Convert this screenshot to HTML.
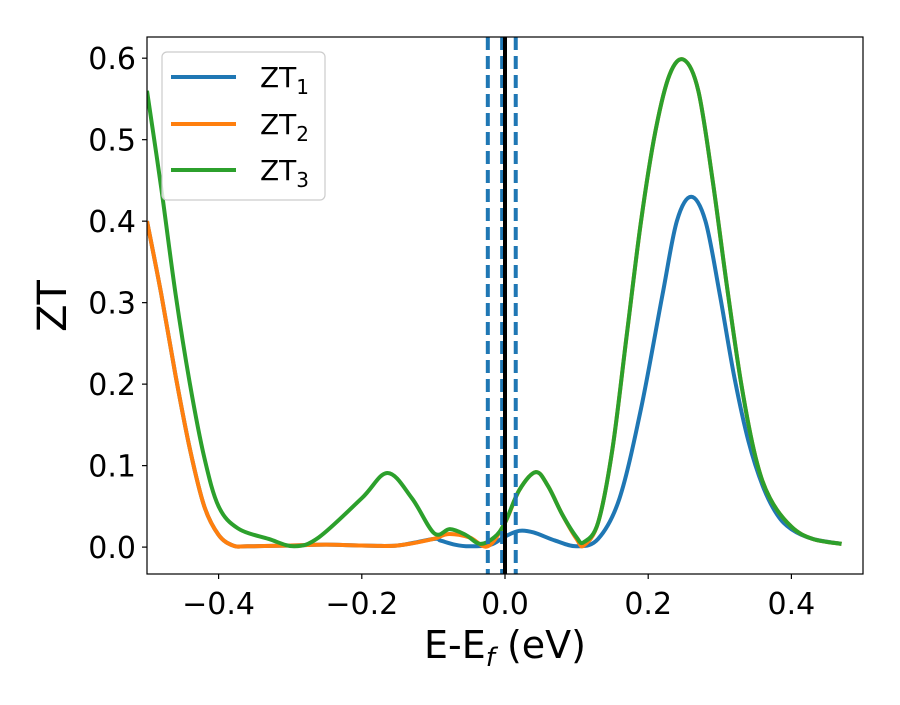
<!DOCTYPE html>
<html><head><meta charset="utf-8"><style>
body{margin:0;background:#fff;}
svg text{font-family:"DejaVu Sans","Liberation Sans",sans-serif;fill:#000;}
</style></head><body>
<svg width="900" height="700" viewBox="0 0 900 700">
<g id="marks"></g>
<g id="axes"></g>
</svg>
<script>
const blueX=[-0.5,-0.48,-0.46,-0.44,-0.42,-0.40,-0.38,-0.36,-0.3,-0.25,-0.2,-0.15,-0.1,-0.09,-0.07,-0.05,-0.02,0,0.02,0.04,0.07,0.1,0.13,0.16,0.19,0.22,0.24,0.26,0.28,0.30,0.32,0.34,0.36,0.38,0.40,0.43,0.47];
const blueY=[0.40,0.31,0.21,0.12,0.05,0.015,0.002,0.001,0.002,0.003,0.002,0.002,0.01,0.008,0.003,0.001,0.003,0.013,0.02,0.018,0.008,0.001,0.01,0.06,0.17,0.31,0.40,0.43,0.40,0.31,0.21,0.13,0.075,0.04,0.022,0.01,0.004];
const orangeX=[-0.5,-0.48,-0.46,-0.44,-0.42,-0.40,-0.38,-0.36,-0.3,-0.25,-0.2,-0.15,-0.1,-0.08,-0.05,-0.024,0,0.02,0.043,0.06,0.08,0.1,0.11,0.13,0.15,0.17,0.19,0.21,0.23,0.25,0.27,0.29,0.31,0.33,0.35,0.37,0.40,0.43,0.47];
const orangeY=[0.40,0.31,0.21,0.12,0.05,0.015,0.002,0.001,0.002,0.003,0.002,0.002,0.01,0.016,0.012,0.001,0.03,0.07,0.092,0.075,0.04,0.01,0.002,0.03,0.12,0.26,0.40,0.51,0.58,0.598,0.56,0.45,0.32,0.2,0.11,0.06,0.025,0.01,0.004];
const greenX=[-0.5,-0.48,-0.46,-0.44,-0.42,-0.40,-0.373,-0.33,-0.294,-0.26,-0.2,-0.164,-0.13,-0.099,-0.077,-0.055,-0.035,-0.015,0,0.02,0.043,0.06,0.08,0.1,0.11,0.13,0.15,0.17,0.19,0.21,0.23,0.25,0.27,0.29,0.31,0.33,0.35,0.37,0.40,0.43,0.47];
const greenY=[0.56,0.44,0.31,0.20,0.11,0.05,0.023,0.01,0.001,0.012,0.06,0.091,0.06,0.017,0.022,0.015,0.004,0.012,0.03,0.07,0.092,0.075,0.04,0.012,0.006,0.03,0.12,0.26,0.40,0.51,0.58,0.598,0.56,0.45,0.32,0.2,0.11,0.06,0.025,0.01,0.004];
const xTicks=[-0.4,-0.2,0.0,0.2,0.4];
const xTickLabels=["\u22120.4","\u22120.2","0.0","0.2","0.4"];
const yTicks=[0,0.1,0.2,0.3,0.4,0.5,0.6];
const yTickLabels=["0.0","0.1","0.2","0.3","0.4","0.5","0.6"];
const dashedX=[-0.024,-0.004,0.015];
const fermiX=0.0;

const L=147,R=863,T=37,B=574;
const xmin=-0.5,xmax=0.5,ymin=-0.033,ymax=0.626;
const sx=v=>L+(v-xmin)/(xmax-xmin)*(R-L);
const sy=v=>B-(v-ymin)/(ymax-ymin)*(B-T);
const NS="http://www.w3.org/2000/svg";
const marks=document.getElementById('marks'),axes=document.getElementById('axes');
function mk(tag,attrs,parent){const e=document.createElementNS(NS,tag);for(const k in attrs)e.setAttribute(k,attrs[k]);parent.appendChild(e);return e;}
function pathFor(xs,ys){
  const p=xs.map((x,i)=>[sx(x),sy(ys[i])]);
  let d=`M${p[0][0]},${p[0][1]}`;
  for(let i=0;i<p.length-1;i++){
    const p0=p[i-1]||p[i],p1=p[i],p2=p[i+1],p3=p[i+2]||p2;
    const c1=[p1[0]+(p2[0]-p0[0])/6,p1[1]+(p2[1]-p0[1])/6];
    const c2=[p2[0]-(p3[0]-p1[0])/6,p2[1]-(p3[1]-p1[1])/6];
    d+=`C${c1[0]},${c1[1]} ${c2[0]},${c2[1]} ${p2[0]},${p2[1]}`;
  }
  return d;
}
const clip=mk('clipPath',{id:'pc'},marks);mk('rect',{x:L,y:T,width:R-L,height:B-T},clip);
const g=mk('g',{'clip-path':'url(#pc)'},marks);
const s1=mk('path',{d:pathFor(blueX,blueY),fill:'none',stroke:'#1f77b4','stroke-width':4,'stroke-linejoin':'round'},g);


const s2=mk('path',{d:pathFor(orangeX,orangeY),fill:'none',stroke:'#ff7f0e','stroke-width':4,'stroke-linejoin':'round'},g);


const s3=mk('path',{d:pathFor(greenX,greenY),fill:'none',stroke:'#2ca02c','stroke-width':4,'stroke-linejoin':'round'},g);


dashedX.forEach(v=>{
  const l=mk('line',{x1:sx(v),x2:sx(v),y1:T,y2:B,stroke:'#1f77b4','stroke-width':4,'stroke-dasharray':'13,6'},g);
  
  
});
const fl=mk('line',{x1:sx(fermiX),x2:sx(fermiX),y1:T,y2:B,stroke:'#000','stroke-width':4},g);



const frame=mk('rect',{x:L,y:T,width:R-L,height:B-T,fill:'none',stroke:'#000','stroke-width':1.2},axes);


xTicks.forEach((v,i)=>{
  mk('line',{x1:sx(v),x2:sx(v),y1:B,y2:B+5,stroke:'#000','stroke-width':1.2},axes);
  const t=mk('text',{x:sx(v),y:B+40,'text-anchor':'middle','font-size':30},axes);t.textContent=xTickLabels[i];
  
  
});
yTicks.forEach((v,i)=>{
  mk('line',{x1:L-5,x2:L,y1:sy(v),y2:sy(v),stroke:'#000','stroke-width':1.2},axes);
  const t=mk('text',{x:L-11,y:sy(v)+11,'text-anchor':'end','font-size':30},axes);t.textContent=yTickLabels[i];
  
  
});
</script>
<svg style="position:absolute;left:0;top:0" width="900" height="700">
<text x="505" y="658" text-anchor="middle" font-size="38">E-E<tspan font-style="italic" font-size="26" dy="8">f</tspan><tspan dy="-8"> (eV)</tspan></text>
<text transform="translate(66,306) rotate(-90)" text-anchor="middle" font-size="40">ZT</text>
<g>
<rect x="162" y="52" width="163" height="148" rx="5" fill="#fff" fill-opacity="0.8" stroke="#ccc" stroke-width="1.2"/>
<line x1="171" x2="236" y1="77" y2="77" stroke="#1f77b4" stroke-width="4"/>
<line x1="171" x2="236" y1="124" y2="124" stroke="#ff7f0e" stroke-width="4"/>
<line x1="171" x2="236" y1="170" y2="170" stroke="#2ca02c" stroke-width="4"/>
<text x="260" y="87" font-size="28">ZT<tspan font-size="20" dy="7">1</tspan></text>
<text x="260" y="134" font-size="28">ZT<tspan font-size="20" dy="7">2</tspan></text>
<text x="260" y="180" font-size="28">ZT<tspan font-size="20" dy="7">3</tspan></text>
</g>
</svg>
</body></html>
